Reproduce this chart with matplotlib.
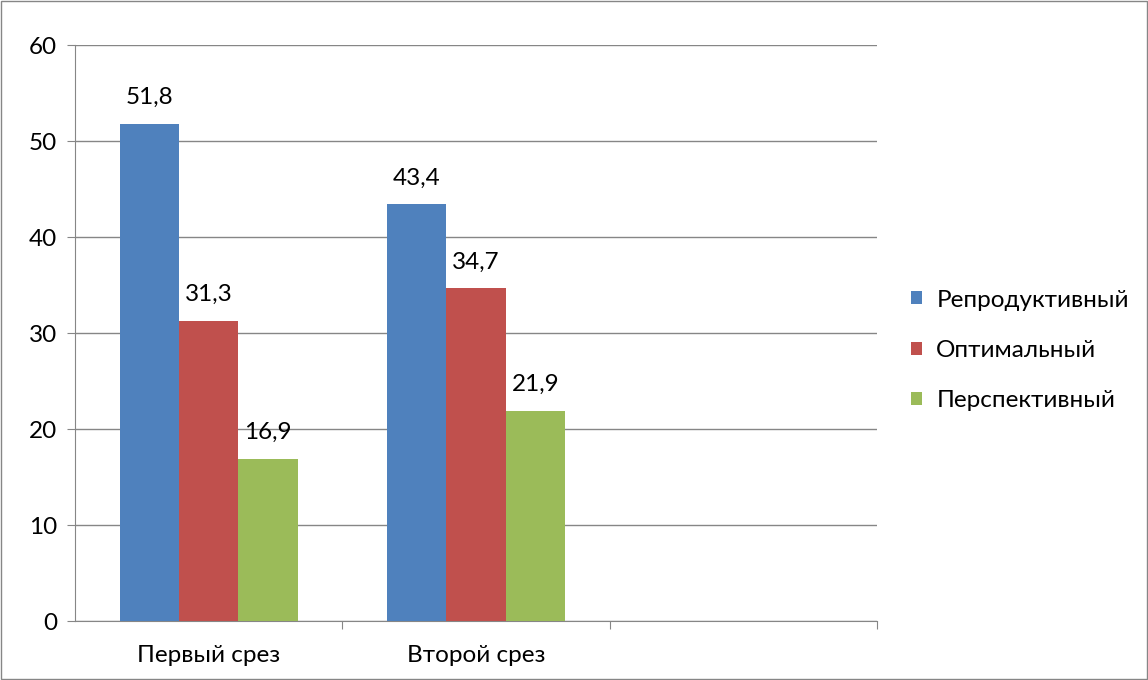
import matplotlib.pyplot as plt
import numpy as np

categories = ['Первый срез', 'Второй срез', '']
series_names = ['Репродуктивный', 'Оптимальный', 'Перспективный']
reproductive = [51.8, 43.4, None]
optimal = [31.3, 34.7, None]
perspective = [16.9, 21.9, None]
colors = ['#4F81BD', '#C0504D', '#9BBB59']

plt.rcParams['font.family'] = ['Lato', 'DejaVu Sans']
fs = 17.5

fig = plt.figure(figsize=(11.48, 6.8), dpi=100)
fig.patches.append(plt.Rectangle((0.001, 0.001), 0.998, 0.997, transform=fig.transFigure,
                                 fill=False, edgecolor='#868686', linewidth=1))
ax = fig.add_axes([75 / 1148, 1 - 621 / 680, 802 / 1148, 576 / 680])

x = np.arange(len(categories))
w = 0.222
for i, (vals, name) in enumerate(zip([reproductive, optimal, perspective], series_names)):
    xs = [xi + (i - 1) * w for xi, v in zip(x, vals) if v is not None]
    vs = [v for v in vals if v is not None]
    ax.bar(xs, vs, width=w, color=colors[i], label=name, zorder=3)
    for xx, v in zip(xs, vs):
        ax.text(xx, v + 2.7, f'{v:.1f}'.replace('.', ','), ha='center', va='center', fontsize=fs)

ax.set_xlim(-0.5, 2.5)
ax.set_ylim(0, 60)
ax.set_yticks(range(0, 61, 10))
ax.grid(axis='y', color='#868686', linewidth=1, zorder=0)
ax.set_xticks([0.5, 1.5, 2.5])
ax.set_xticklabels([])
ax.set_xticks(x, minor=True)
ax.set_xticklabels(categories, minor=True)
ax.tick_params(axis='x', which='minor', length=0, pad=17, labelsize=fs)
ax.tick_params(axis='x', which='major', length=6, color='#868686')
ax.tick_params(axis='y', length=6, color='#868686', labelsize=fs, pad=7)
for s in ['top', 'right']:
    ax.spines[s].set_visible(False)
for s in ['left', 'bottom']:
    ax.spines[s].set_color('#868686')

ax.legend(loc='center left', bbox_to_anchor=(1.03, 0.47), frameon=False, fontsize=fs,
          handlelength=0.45, handleheight=0.45, handletextpad=0.6, labelspacing=1.2,
          borderaxespad=0)

fig.savefig('out.png', dpi=100)
